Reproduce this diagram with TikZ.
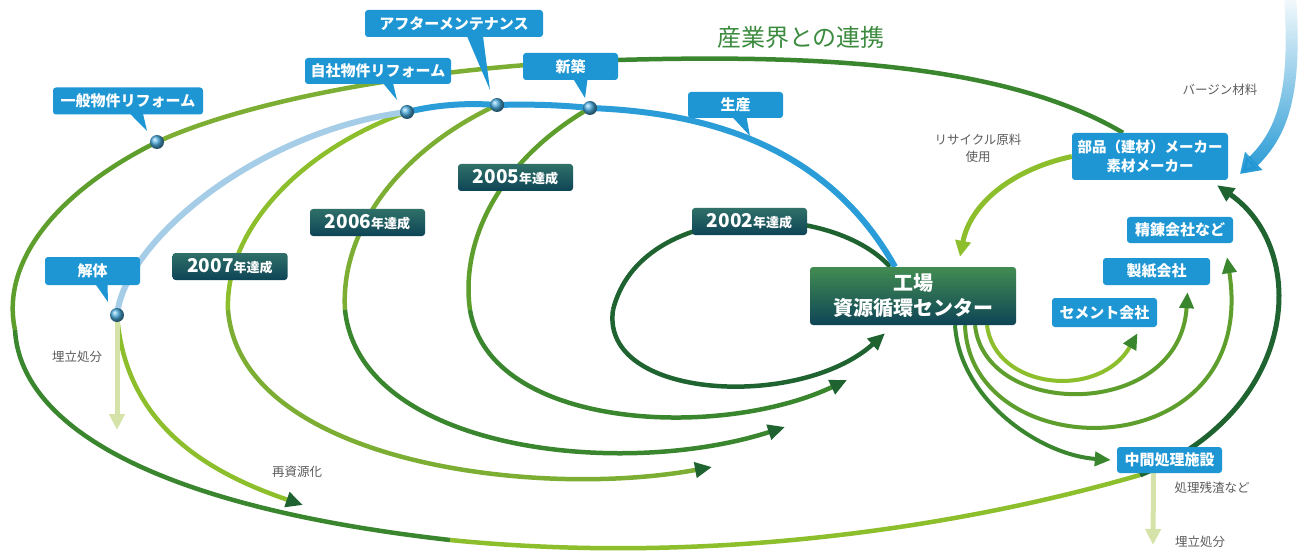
\documentclass[tikz,border=0pt]{standalone}
\usepackage{fontspec}
\setmainfont{Noto Sans CJK JP}
\usetikzlibrary{arrows.meta,backgrounds,fadings}
\definecolor{callout}{HTML}{1E96D3}
\definecolor{lifeblue}{HTML}{2A9CD8}
\definecolor{paleblue}{HTML}{A6CDE8}
\definecolor{leaf}{HTML}{8DBE2B}
\definecolor{olive}{HTML}{7BAE32}
\definecolor{moss}{HTML}{5E9E2C}
\definecolor{forest}{HTML}{3A862E}
\definecolor{pine}{HTML}{1F6430}
\definecolor{tealtop}{HTML}{2F7068}
\definecolor{tealbot}{HTML}{0E4456}
\definecolor{facttop}{HTML}{428C52}
\definecolor{straw}{HTML}{D5E3A8}
\definecolor{note}{HTML}{5C5C5C}
\definecolor{titlec}{HTML}{3C8B3F}
\tikzset{
  tag/.style={rounded corners=3pt,fill=callout,text=white,inner sep=0pt,minimum height=27pt,
    font=\bfseries\fontsize{15}{18}\selectfont},
  year/.style={rounded corners=3pt,top color=tealtop,bottom color=tealbot,text=white,inner sep=0pt,
    minimum width=115pt,minimum height=27pt,font=\bfseries},
  plant/.style={rounded corners=3pt,top color=facttop,bottom color=tealbot,text=white,align=center,
    minimum width=206pt,minimum height=58pt,inner sep=0pt,font=\bfseries\fontsize{20}{25}\selectfont},
  bead/.style={circle,inner sep=0pt,minimum size=14pt,ball color=callout!80!white},
  ring/.style={line width=4.5pt,draw=#1},
  ring/.default=forest,
  flow/.style={line width=4.5pt,draw=#1,-{Triangle[length=17pt,width=15pt,color=pine]}},
  flow/.default=forest,
  branch/.style={line width=4pt,draw=#1,-{Triangle[length=16pt,width=14pt,color=forest]}},
  branch/.default=moss,
  waste/.style={line width=5pt,draw=straw,-{Triangle[length=16pt,width=15pt]}},
  note/.style={text=note,align=center,font=\fontsize{12.5}{17}\selectfont},
}

\begin{document}
\begin{tikzpicture}[x=1pt,y=-1pt]
  \useasboundingbox (0,0) rectangle (1306,556);
  % life cycle callouts
  \node[tag,minimum width=150pt] (gen) at (128,101) {一般物件リフォーム};
  \node[tag,minimum width=146pt,minimum height=26pt] (own) at (378,71) {自社物件リフォーム};
  \node[tag,minimum width=178pt] (after) at (454,23.5) {アフターメンテナンス};
  \node[tag,minimum width=95pt] (newb) at (570.5,66.5) {新築};
  \node[tag,minimum width=95pt,minimum height=26pt] (prod) at (735.5,105) {生産};
  \node[tag,minimum width=95pt,minimum height=28pt] (demo) at (92.5,271) {解体};
  % years
  \node[year] (y2002) at (749.5,221.5) {{\fontsize{19}{20}\selectfont 2002}{\fontsize{13}{14}\selectfont 年達成}};
  \node[year] (y2005) at (515.5,177.5) {{\fontsize{19}{20}\selectfont 2005}{\fontsize{13}{14}\selectfont 年達成}};
  \node[year] (y2006) at (367.5,222.5) {{\fontsize{19}{20}\selectfont 2006}{\fontsize{13}{14}\selectfont 年達成}};
  \node[year] (y2007) at (230,266.5) {{\fontsize{19}{20}\selectfont 2007}{\fontsize{13}{14}\selectfont 年達成}};
  \node[plant] (fac) at (913,296) {工場\\資源循環センター};
  % partners
  \node[tag,minimum width=156pt,minimum height=47pt,align=center,
    font=\bfseries\fontsize{14.5}{19}\selectfont] (maker) at (1150,156.5) {部品（建材）メーカー\\素材メーカー};
  \node[tag,minimum width=106pt,minimum height=26pt] (refine) at (1180,230) {精錬会社など};
  \node[tag,minimum width=107pt] (paper) at (1156.5,271.5) {製紙会社};
  \node[tag,minimum width=105pt,minimum height=29pt] (cement) at (1104.5,312.5) {セメント会社};
  \node[tag,minimum width=105pt,minimum height=26pt] (mid) at (1169.5,460) {中間処理施設};
  % texts
  \node[text=titlec,font=\fontsize{24}{28}\selectfont] (title) at (801,37) {産業界との連携};
  \node[note] (virgin) at (1220,90) {バージン材料};
  \node[note] (recyc) at (978,148) {リサイクル原料\\使用};
  \node[note] (land1) at (77,357) {埋立処分};
  \node[note] (reuse) at (297,472) {再資源化};
  \node[note] (resid) at (1212,488) {処理残渣など};
  \node[note] (land2) at (1200,542) {埋立処分};

  \coordinate (dgen) at (157,142);
  \coordinate (down) at (407,112);
  \coordinate (dafter) at (497,105);
  \coordinate (dnew) at (590,108);
  \coordinate (ddemo) at (117,315);
  \coordinate (p7) at (228,310);
  \coordinate (p6) at (345,310);
  \coordinate (p5) at (470,310);
  \coordinate (p2) at (613,310);
  \coordinate (t7) at (712,467);
  \coordinate (t6) at (785,427);
  \coordinate (t5) at (847,380);
  \coordinate (t0) at (303,505);
  \coordinate (t1) at (117,430);
  \coordinate (t2) at (1153,545);
  \coordinate (o1) at (617,60);
  \coordinate (o3) at (15,330);
  \coordinate (o4) at (450,540);
  \coordinate (o5) at (1140,475);
  \coordinate (vtop) at (1290,-4);
  \coordinate (vtip) at (1240,174);

  \begin{scope}[on background layer]
    \fill[white] (0,0) rectangle (1306,556);
    % outer loop
    \draw[ring=forest] ([xshift=-27pt]maker.north) .. controls (1000,60) and (800,55) .. (o1);
    \draw[ring=olive] (o1) .. controls (450,65) and (260,95) .. (dgen);
    \draw[ring=moss] (dgen) .. controls (60,190) and (0,260) .. (o3);
    \draw[ring=forest] (o3) .. controls (20,420) and (140,505) .. (o4);
    \draw[ring=leaf] (o4) .. controls (700,565) and (950,530) .. (o5);
    \draw[flow=pine,line width=5pt] (o5) .. controls (1300,410) and (1310,250) .. ([xshift=67pt,yshift=-5pt]maker.south);
    % loops back to the plant
    \draw[ring=leaf] (down) .. controls (300,150) and (225,230) .. (p7);
    \draw[flow=olive] (p7) .. controls (240,460) and (530,500) .. (t7);
    \draw[ring=olive] (dafter) .. controls (400,150) and (340,230) .. (p6);
    \draw[flow=forest] (p6) .. controls (360,450) and (620,480) .. (t6);
    \draw[ring=moss] (dnew) .. controls (500,160) and (460,240) .. (p5);
    \draw[flow=forest] (p5) .. controls (490,430) and (720,440) .. (t5);
    \draw[ring=pine] ([xshift=-23pt]fac.north) .. controls (830,200) and (640,200) .. (p2);
    \draw[flow=pine] (p2) .. controls (600,400) and (800,410) .. ([xshift=-28pt,yshift=-8pt]fac.south);
    \draw[flow=leaf] (ddemo) .. controls (125,420) and (200,470) .. (t0);
    \draw[waste] (ddemo) -- (t1);
    % life cycle line
    \draw[paleblue,line width=6pt] (ddemo) .. controls (125,240) and (260,130) .. (down);
    \draw[lifeblue,line width=6pt] (down) .. controls (440,104) and (470,103) .. (dafter)
      .. controls (530,104) and (560,105) .. (dnew)
      .. controls (700,112) and (825,142) .. ([xshift=-18pt]fac.north);
    % plant to partners
    \draw[branch=leaf] ([xshift=74pt]fac.south) .. controls (995,390) and (1100,400) .. ([xshift=33pt,yshift=-6pt]cement.south);
    \draw[branch] ([xshift=62pt]fac.south) .. controls (985,420) and (1180,420) .. ([xshift=31pt,yshift=-7pt]paper.south);
    \draw[branch] ([xshift=52pt]fac.south) .. controls (970,470) and (1260,470) .. ([xshift=47pt,yshift=-14pt]refine.south);
    \draw[branch=forest] ([xshift=42pt]fac.south) .. controls (960,400) and (1040,455) .. ([xshift=-6pt]mid.west);
    \draw[waste] ([xshift=-16pt]mid.south) -- (t2);
    \draw[line width=5pt,leaf,-{Triangle[length=16pt,width=15pt]}] (maker.west) .. controls (1010,170) and (970,205) .. ([xshift=47pt,yshift=10pt]fac.north);
    \draw[line width=12pt,callout,path fading=north,-{Triangle[length=19pt,width=24pt]}] (vtop) .. controls (1296,85) and (1286,130) .. (vtip);
  \end{scope}

  % callout tails
  \foreach \n/\a/\b/\tx/\ty in {gen/2/15/147/131,own/5/15/397/100,after/13/29/490/90,
                                newb/3/17/585/98,prod/-3/11/750/136,demo/3/15/108/302}
    \fill[callout] ([xshift=\a pt,yshift=1pt]\n.south) -- ([xshift=\b pt,yshift=1pt]\n.south) -- (\tx,\ty) -- cycle;
  \foreach \d in {dgen,down,dafter,dnew,ddemo}
    \node[bead] (b\d) at (\d) {};
\end{tikzpicture}
\end{document}
